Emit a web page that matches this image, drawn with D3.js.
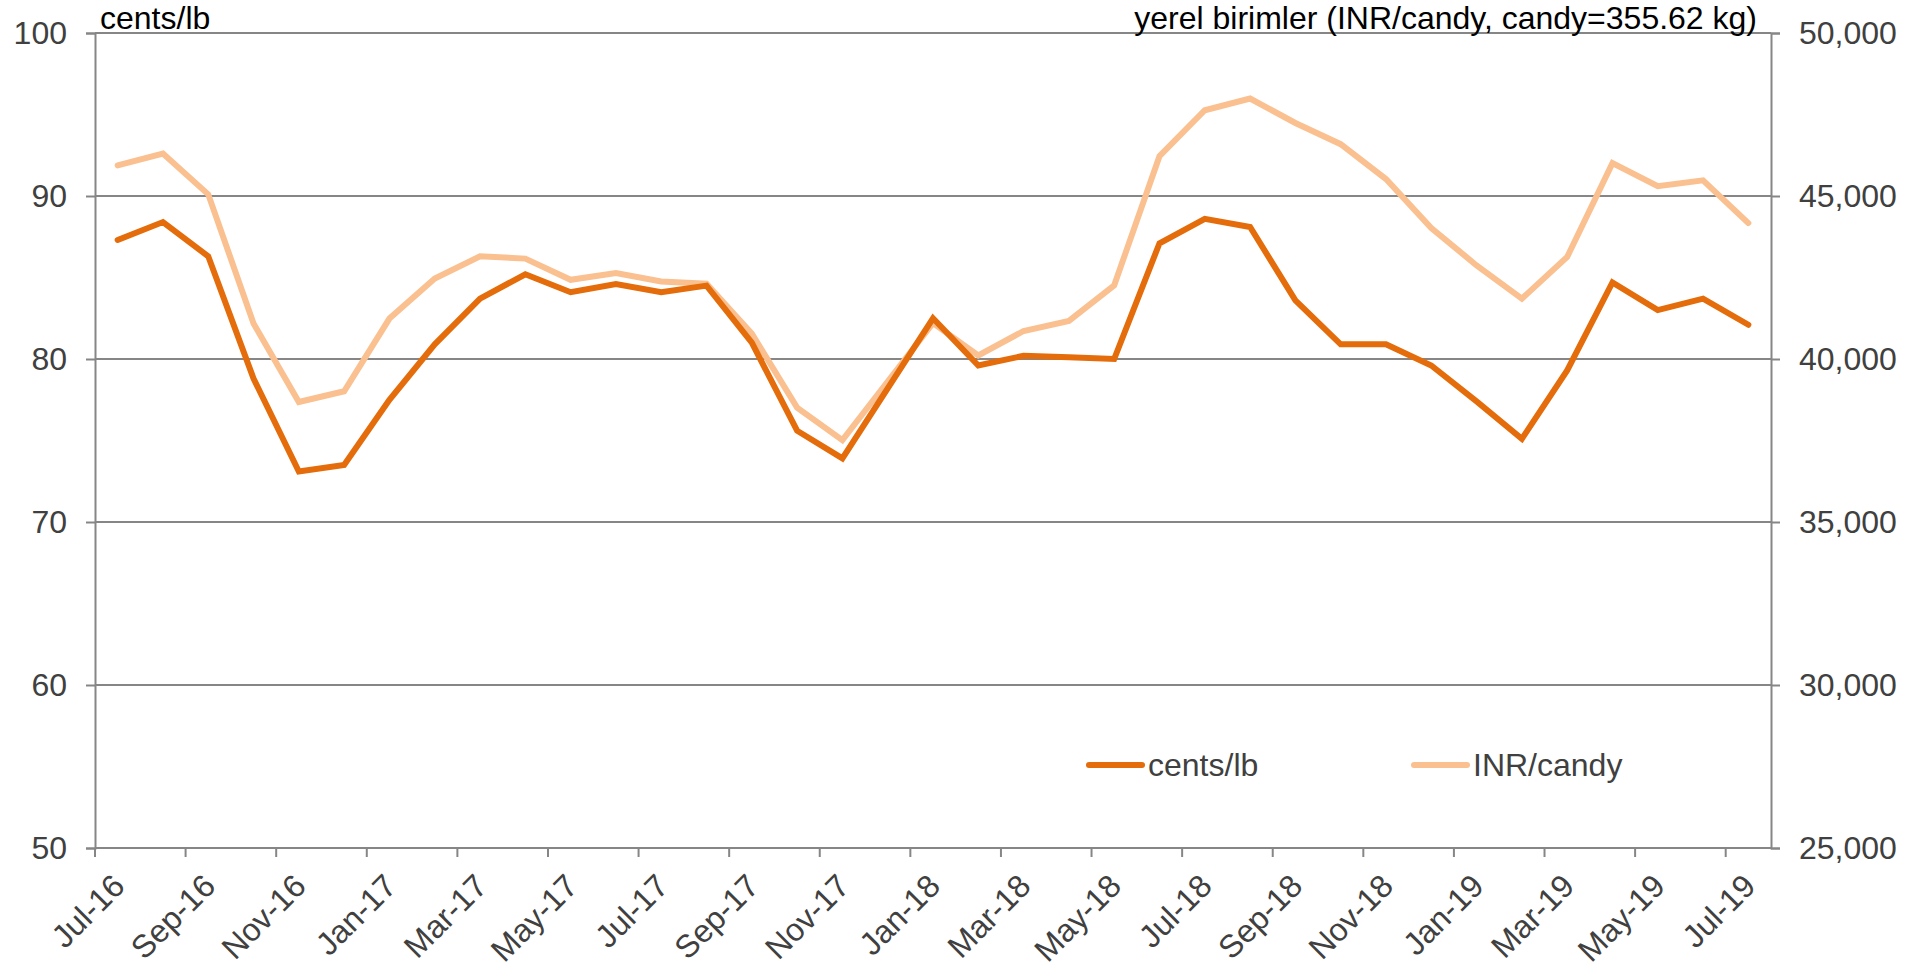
<!DOCTYPE html>
<html>
<head>
<meta charset="utf-8">
<script src="https://cdn.jsdelivr.net/npm/d3@7"></script>
<style>
  html, body { margin: 0; padding: 0; background: #fff; }
  svg { display: block; font-family: "Liberation Sans", Arial, sans-serif; }
</style>
</head>
<body>
<svg id="chart" width="1919" height="979"></svg>
<script>
const months = ["Jul-16","Aug-16","Sep-16","Oct-16","Nov-16","Dec-16","Jan-17","Feb-17","Mar-17","Apr-17","May-17","Jun-17",
  "Jul-17","Aug-17","Sep-17","Oct-17","Nov-17","Dec-17","Jan-18","Feb-18","Mar-18","Apr-18","May-18","Jun-18",
  "Jul-18","Aug-18","Sep-18","Oct-18","Nov-18","Dec-18","Jan-19","Feb-19","Mar-19","Apr-19","May-19","Jun-19","Jul-19"];
const centsLb = [87.3,88.4,86.3,78.8,73.1,73.5,77.5,80.9,83.7,85.2,84.1,84.6,
  84.1,84.5,81.0,75.6,73.9,78.2,82.5,79.6,80.2,80.1,80.0,87.1,
  88.6,88.1,83.6,80.9,80.9,79.6,77.4,75.1,79.3,84.7,83.0,83.7,82.1];
const inrCandy = [45940,46300,45050,41090,38680,39010,41240,42470,43150,43080,42430,42640,
  42380,42310,40780,38510,37510,39310,41100,40110,40860,41170,42260,46220,
  47630,47990,47240,46590,45520,44020,42870,41850,43130,46010,45300,45480,44170];
const leftTicks = [50,60,70,80,90,100];
const rightTicks = [25000,30000,35000,40000,45000,50000];
const tickMonths = months.filter((m,i) => i % 2 === 0);
const seriesNames = ["cents/lb","INR/candy"];
const leftTitle = "cents/lb";
const rightTitle = "yerel birimler (INR/candy, candy=355.62 kg)";

const W = 1919, H = 979;
const m = {left: 95, right: 1771, top: 33, bottom: 848};
const gridColor = "#868686";
const darkColor = "#E46C0A";
const lightColor = "#FAC090";
const labelColor = "#404040";
const fs = 32;
const lw = 6;

const svg = d3.select("#chart");
const x = d3.scaleBand().domain(months).range([m.left, m.right]).padding(0);
const yL = d3.scaleLinear().domain([50,100]).range([m.bottom, m.top]);
const yR = d3.scaleLinear().domain([25000,50000]).range([m.bottom, m.top]);
const bw = x.bandwidth();

// gridlines
svg.append("g").selectAll("line").data(leftTicks).join("line")
  .attr("x1", m.left).attr("x2", m.right)
  .attr("y1", d => yL(d)).attr("y2", d => yL(d))
  .attr("stroke", gridColor).attr("stroke-width", 2);

// left axis
const gL = svg.append("g").attr("transform", `translate(${m.left},0)`)
  .call(d3.axisLeft(yL).tickValues(leftTicks).tickSize(9).tickPadding(19).tickFormat(d3.format("d")));
gL.select(".domain").attr("stroke", gridColor).attr("stroke-width", 2);
gL.selectAll(".tick line").attr("stroke", gridColor).attr("stroke-width", 2);
gL.selectAll(".tick text").attr("font-size", fs).attr("fill", labelColor)
  .attr("font-family", "Liberation Sans, Arial, sans-serif");

// right axis
const gR = svg.append("g").attr("transform", `translate(${m.right},0)`)
  .call(d3.axisRight(yR).tickValues(rightTicks).tickSize(9).tickPadding(19).tickFormat(d3.format(",")));
gR.select(".domain").attr("stroke", gridColor).attr("stroke-width", 2);
gR.selectAll(".tick line").attr("stroke", gridColor).attr("stroke-width", 2);
gR.selectAll(".tick text").attr("font-size", fs).attr("fill", labelColor)
  .attr("font-family", "Liberation Sans, Arial, sans-serif");

// bottom axis ticks (at band boundaries) and rotated labels (at band centers)
const gB = svg.append("g");
gB.selectAll("line.tk").data(tickMonths).join("line").attr("class","tk")
  .attr("x1", d => x(d)).attr("x2", d => x(d))
  .attr("y1", m.bottom).attr("y2", m.bottom + 9)
  .attr("stroke", gridColor).attr("stroke-width", 2);
gB.selectAll("text").data(tickMonths).join("text")
  .attr("transform", d => `translate(${x(d) + bw/2 + 9},${m.bottom + 40}) rotate(-45)`)
  .attr("text-anchor", "end")
  .attr("font-size", fs).attr("fill", labelColor)
  .text(d => d);

// lines
const lineL = d3.line().x((d,i) => x(months[i]) + bw/2).y(d => yL(d));
const lineR = d3.line().x((d,i) => x(months[i]) + bw/2).y(d => yR(d));
svg.append("path").datum(inrCandy).attr("d", lineR)
  .attr("fill","none").attr("stroke", lightColor).attr("stroke-width", lw)
  .attr("stroke-linejoin","miter").attr("stroke-linecap","round");
svg.append("path").datum(centsLb).attr("d", lineL)
  .attr("fill","none").attr("stroke", darkColor).attr("stroke-width", lw)
  .attr("stroke-linejoin","miter").attr("stroke-linecap","round");

// axis titles
svg.append("text").attr("x", 100).attr("y", 29).attr("font-size", fs).attr("fill", "#000").text(leftTitle);
svg.append("text").attr("x", 1757).attr("y", 29).attr("text-anchor","end").attr("font-size", fs).attr("fill", "#000").text(rightTitle);

// legend
const legend = [
  {name: seriesNames[0], color: darkColor, x0: 1089},
  {name: seriesNames[1], color: lightColor, x0: 1414}
];
const lg = svg.append("g").selectAll("g").data(legend).join("g")
  .attr("transform", d => `translate(${d.x0},765)`);
lg.append("line").attr("x1", 0).attr("x2", 53).attr("y1", 0).attr("y2", 0)
  .attr("stroke", d => d.color).attr("stroke-width", lw).attr("stroke-linecap","round");
lg.append("text").attr("x", 59).attr("y", 0).attr("dy", "0.35em")
  .attr("font-size", fs).attr("fill", labelColor).text(d => d.name);
</script>
</body>
</html>
